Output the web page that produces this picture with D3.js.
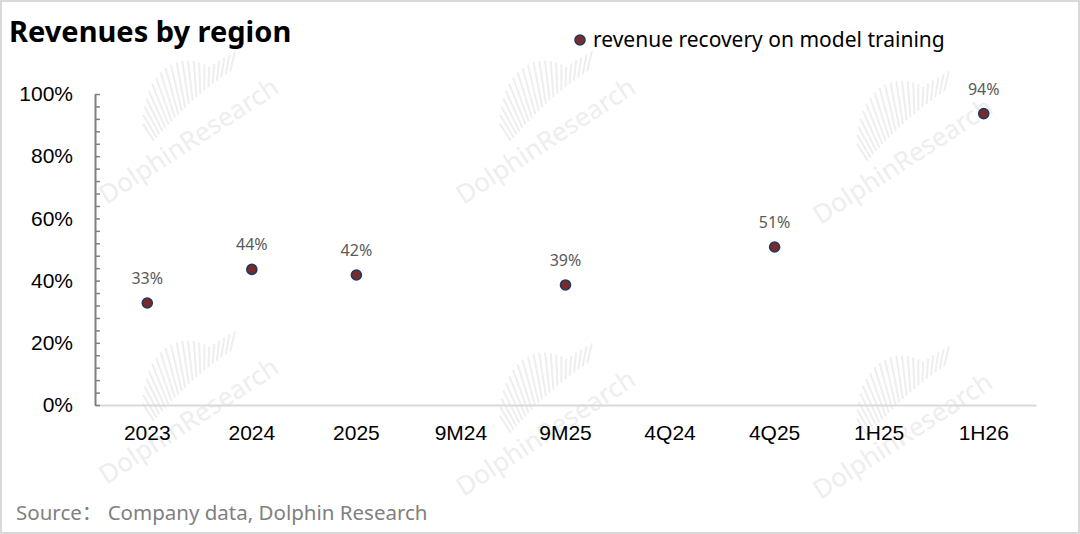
<!DOCTYPE html>
<html>
<head>
<meta charset="utf-8">
<script src="https://cdn.jsdelivr.net/npm/d3@7"></script>
<style>
  html, body { margin: 0; padding: 0; background: #fff; }
  svg { display: block; font-family: "Noto Sans", "Open Sans", sans-serif; }
</style>
</head>
<body>
<div id="chart"></div>
<script>
const categories = ['2023', '2024', '2025', '9M24', '9M25', '4Q24', '4Q25', '1H25', '1H26'];
const recovery = [0.328, 0.436, 0.418, null, 0.386, null, 0.508, null, 0.937];
const yTicks = [0, 0.2, 0.4, 0.6, 0.8, 1.0];
const seriesName = 'revenue recovery on model training';

const width = 1080;
const height = 534;
const margin = { top: 94, right: 44, bottom: 129, left: 95 };

const svg = d3.select('#chart')
  .append('svg')
  .attr('width', width)
  .attr('height', height);

// outer frame
svg.append('rect')
  .attr('x', 1).attr('y', 1)
  .attr('width', width - 2).attr('height', height - 2)
  .attr('fill', '#fff')
  .attr('stroke', '#d9d9d9')
  .attr('stroke-width', 2);

// watermarks
const marks = [[188, 140], [545, 140], [902, 160], [188, 420], [545, 432], [902, 435]];
marks.forEach(([cx, cy]) => {
  const g = svg.append('g')
    .attr('transform', 'translate(' + cx + ',' + cy + ') rotate(-33)')
    .attr('fill', '#eeeeee');
  g.append('text')
    .attr('text-anchor', 'middle')
    .attr('y', 10)
    .style('font-size', '26px')
    .text('DolphinResearch');
  d3.range(22).forEach(i => {
    const h = 8 + 40 * Math.sin(Math.PI * Math.min(1, (i + 2) / 18) * 0.9);
    g.append('rect')
      .attr('x', -30 + i * 4)
      .attr('y', -18 - h - i * 1.2)
      .attr('width', 2)
      .attr('height', h)
      .attr('transform', 'rotate(' + (i * 2.2) + ',' + (-30 + i * 4) + ',-18)');
  });
});

const x = d3.scaleBand()
  .domain(categories)
  .range([margin.left, width - margin.right]);

const y = d3.scaleLinear()
  .domain([0, 1])
  .range([height - margin.bottom, margin.top]);

// x axis
const xAxis = svg.append('g')
  .attr('transform', 'translate(0,' + (height - margin.bottom) + ')')
  .call(d3.axisBottom(x).tickSize(0).tickPadding(20));
xAxis.select('.domain').attr('stroke', '#d9d9d9').attr('stroke-width', 2);
xAxis.selectAll('text')
  .attr('fill', '#000')
  .style('font-size', '21px');

// y axis with inner minor ticks
const yAxis = svg.append('g')
  .attr('transform', 'translate(' + margin.left + ',0)')
  .call(d3.axisLeft(y).tickValues(d3.range(0, 1.0001, 0.04)).tickSize(-5).tickSizeOuter(0)
    .tickFormat(d => yTicks.some(t => Math.abs(t - d) < 1e-6) ? d3.format('.0%')(d) : ''));
yAxis.select('.domain').attr('stroke', '#7f7f7f').attr('stroke-width', 2);
yAxis.selectAll('.tick line').attr('stroke', '#7f7f7f').attr('stroke-width', 1.5);
yAxis.selectAll('text')
  .attr('x', -22)
  .attr('fill', '#000')
  .style('font-size', '21px');

const pts = categories.map((c, i) => ({ c, v: recovery[i] })).filter(d => d.v != null);

svg.selectAll('.dot')
  .data(pts)
  .enter()
  .append('circle')
  .attr('class', 'dot')
  .attr('cx', d => x(d.c) + x.bandwidth() / 2)
  .attr('cy', d => y(d.v))
  .attr('r', 5)
  .attr('fill', '#7b2a2a')
  .attr('stroke', '#1f3864')
  .attr('stroke-width', 1.6);

svg.selectAll('.lbl')
  .data(pts)
  .enter()
  .append('text')
  .attr('class', 'lbl')
  .attr('x', d => x(d.c) + x.bandwidth() / 2)
  .attr('y', d => y(d.v) - 19)
  .attr('text-anchor', 'middle')
  .attr('fill', '#595959')
  .style('font-size', '16px')
  .text(d => d3.format('.0%')(d.v));

// title
svg.append('text')
  .attr('x', 9)
  .attr('y', 42)
  .attr('font-weight', 'bold')
  .attr('fill', '#000')
  .style('font-size', '29px')
  .text('Revenues by region');

// legend
const legend = svg.append('g');
legend.append('circle')
  .attr('cx', 580).attr('cy', 40).attr('r', 5)
  .attr('fill', '#7b2a2a').attr('stroke', '#1f3864').attr('stroke-width', 1.6);
legend.append('text')
  .attr('x', 593).attr('y', 47)
  .attr('fill', '#000')
  .style('font-size', '21px')
  .text(seriesName);

// source
const source = svg.append('text')
  .attr('x', 16)
  .attr('y', 520)
  .attr('fill', '#808080')
  .style('font-size', '20.5px');
source.append('tspan').text('Source');
source.append('tspan').style('font-family', '"Noto Sans CJK SC"').text('：');
source.append('tspan').text(' Company data, Dolphin Research');
</script>
</body>
</html>
